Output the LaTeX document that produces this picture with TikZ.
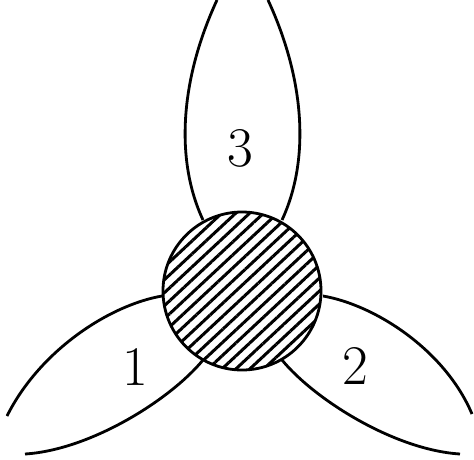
\documentclass[tikz,border=0pt]{standalone}
\usetikzlibrary{patterns.meta}
\begin{document}
\begin{tikzpicture}[x=1pt,y=-1pt,
  curve/.style={line width=2.8pt},
  lbl/.style={font=\fontsize{56}{60}\selectfont, inner sep=0pt},
  blob/.style={circle, draw, line width=2.8pt, minimum size=158pt, inner sep=0pt,
    pattern={Lines[angle=43,distance=9.5pt,line width=3pt]}}]
\useasboundingbox (0,0) rectangle (474,459);
% coordinates
\coordinate (a1) at (203,220); \coordinate (a2) at (217,0);
\coordinate (b1) at (282,220); \coordinate (b2) at (268,0);
\coordinate (c1) at (162,296); \coordinate (c2) at (7,416);
\coordinate (d1) at (203,360); \coordinate (d2) at (25,454);
\coordinate (e1) at (323,296); \coordinate (e2) at (472,414);
\coordinate (f1) at (282,360); \coordinate (f2) at (460,454);
% petals
\draw[curve] (a1) .. controls (175,160) and (180,80) .. (a2);
\draw[curve] (b1) .. controls (310,160) and (305,80) .. (b2);
\draw[curve] (c1) .. controls (110,305) and (40,350) .. (c2);
\draw[curve] (d1) .. controls (170,400) and (90,450) .. (d2);
\draw[curve] (e1) .. controls (375,305) and (445,350) .. (e2);
\draw[curve] (f1) .. controls (315,400) and (395,450) .. (f2);
% central blob
\node[blob] (c) at (242,291) {};
% labels
\node[lbl] (l1) at (135,367) {1};
\node[lbl] (l2) at (355,366) {2};
\node[lbl] (l3) at (240,148) {3};
\end{tikzpicture}
\end{document}
